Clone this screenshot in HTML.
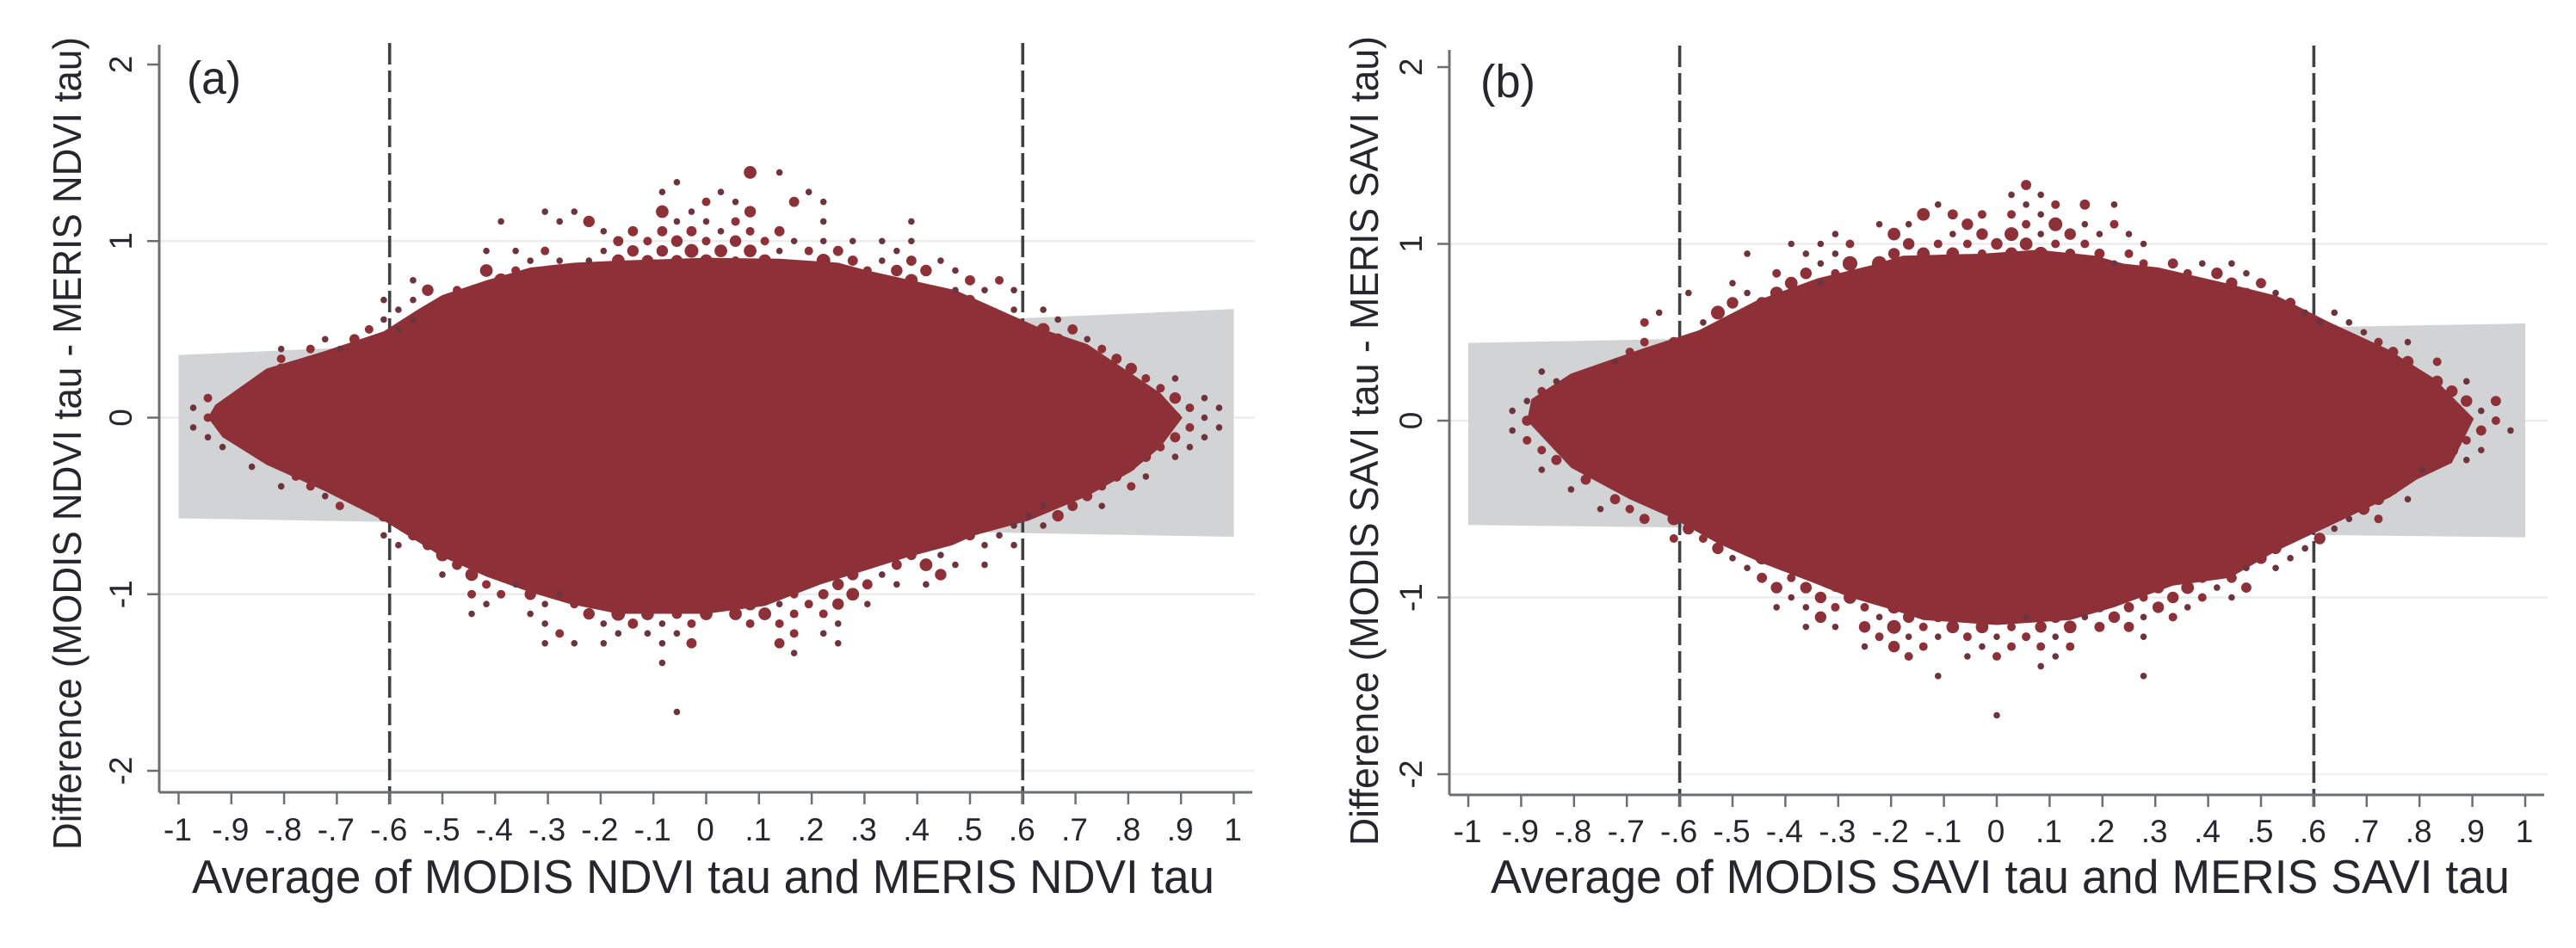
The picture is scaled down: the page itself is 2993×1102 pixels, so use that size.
<!DOCTYPE html>
<html lang="en">
<head>
<meta charset="utf-8">
<title>Bland-Altman plots of MODIS and MERIS tau</title>
<style>
html,body{margin:0;padding:0;background:#fff;}
svg{display:block;}
text{font-family:"Liberation Sans",Arial,sans-serif;fill:#26262c;}
.tick-label{font-size:37px;}
.axis-title{font-size:55px;}
.y-title{font-size:46px;}
.panel-tag{font-size:54px;}
</style>
</head>
<body>
<svg id="figure" xmlns="http://www.w3.org/2000/svg" width="2993" height="1102" viewBox="0 0 2993 1102">
  <rect x="0" y="0" width="2993" height="1102" fill="#ffffff"/>
  <g id="panel-a"></g>
  <g id="panel-b"></g>
  <text class="panel-tag" x="217" y="109" textLength="63" lengthAdjust="spacingAndGlyphs">(a)</text>
  <text class="panel-tag" x="1720" y="113" textLength="64" lengthAdjust="spacingAndGlyphs">(b)</text>
  <text class="axis-title" x="223" y="1038" textLength="1188" lengthAdjust="spacingAndGlyphs">Average of MODIS NDVI tau and MERIS NDVI tau</text>
  <text class="axis-title" x="1732" y="1038" textLength="1184" lengthAdjust="spacingAndGlyphs">Average of MODIS SAVI tau and MERIS SAVI tau</text>
  <text class="y-title" transform="translate(94 988) rotate(-90)" textLength="945" lengthAdjust="spacingAndGlyphs">Difference (MODIS NDVI tau - MERIS NDVI tau)</text>
  <text class="y-title" transform="translate(1601 983) rotate(-90)" textLength="941" lengthAdjust="spacingAndGlyphs">Difference (MODIS SAVI tau - MERIS SAVI tau)</text>
</svg>
<script>
// ---------- shared tick values ----------
const xTickValues = [-1,-.9,-.8,-.7,-.6,-.5,-.4,-.3,-.2,-.1,0,.1,.2,.3,.4,.5,.6,.7,.8,.9,1];
const xTickLabels = ["-1","-.9","-.8","-.7","-.6","-.5","-.4","-.3","-.2","-.1","0",".1",".2",".3",".4",".5",".6",".7",".8",".9","1"];
const yTickValues = [2,1,0,-1,-2];
const yTickLabels = ["2","1","0","-1","-2"];
const gridValues = [1,-1,-2,0];
const limitValues = [-.6,.6];

// Data bins: x bin = 1/36 tau, y bin = 1/18 tau; weight = binned frequency class.
// ---------- panel (a) NDVI ----------
const ndviBandX = [-1,1];
const ndviBandUpper = [.355,.615];
const ndviBandLower = [-.57,-.675];
const ndviUpperBinX = [-34,-33.5,-30,-26,-22,-19.7,-18,-15,-12,-9,-6,0,5,9,11,14,17,20,23,26,28.5,31,32.5];
const ndviUpperBinY = [0,1.3,5,6.8,8.8,11,12.5,14,15.3,15.8,16,16.3,16.2,15.8,15,14,13,11,9,7.5,5,2.5,0];
const ndviLowerBinX = [-34,-33,-30,-26,-22,-18,-15,-12,-9.3,-6,0,4,7.8,13.8,16.8,18.3,22,26,29,31,32.5];
const ndviLowerBinY = [0,-2,-4.8,-7.5,-10.5,-14.2,-16.2,-17.8,-19,-20,-20,-19.2,-17,-14.2,-13,-12,-10.5,-8,-5.5,-3,0];
const ndviDotX = [
3,5,
-2,
-3,1,7,
0,2,6,8,
-11,-9,-3,-1,3,
-14,-10,-8,-2,0,2,8,14,
-7,-5,-3,-1,1,3,5,
-6,-4,-2,0,2,4,6,8,10,12,14,
-15,-13,-11,-7,-5,-3,-1,1,3,5,7,9,13,
-12,-10,-8,-6,-4,-2,0,2,4,8,10,12,14,16,
-15,-13,-11,-9,-7,-5,5,7,9,11,13,15,17,
-20,-14,-12,-10,10,12,14,18,20,
-19,-17,-15,15,17,19,21,
-22,-20,-18,-16,16,18,
-21,-19,19,21,23,
-22,-20,20,24,
-23,-21,21,23,25,
-26,-24,-22,22,24,26,
-29,-27,-25,-23,23,25,27,
-29,26,28,
-29,-27,29,
-30,-28,30,32,
-31,31,
-34,-32,30,32,34,
-35,-33,33,35,
-34,32,34,
-35,-33,33,35,
-34,-32,32,34,
-33,-31,31,33,
-30,30,32,
-31,-29,29,
-28,28,30,
-29,-27,27,29,
-26,-24,26,
-25,23,25,27,
-22,22,24,
19,21,23,
-22,-20,18,20,
-21,-19,19,21,
-18,14,16,
-17,13,15,17,19,
-18,-16,-14,10,12,16,
-15,-13,-11,9,11,13,15,
-16,-14,-12,-10,6,8,10,
-15,-11,-9,1,3,5,7,9,11,
-16,-12,-8,-6,-4,-2,0,2,4,6,8,
-11,-7,-5,-3,-1,3,5,9,
-10,-6,-4,-2,6,8,
-11,-9,-7,-3,-1,5,9,
6,
-3,
-2];
const ndviDotY = [
25,25,
24,
23,23,23,
22,22,22,22,
21,21,21,21,21,
20,20,20,20,20,20,20,20,
19,19,19,19,19,19,19,
18,18,18,18,18,18,18,18,18,18,18,
17,17,17,17,17,17,17,17,17,17,17,17,17,
16,16,16,16,16,16,16,16,16,16,16,16,16,16,
15,15,15,15,15,15,15,15,15,15,15,15,15,
14,14,14,14,14,14,14,14,14,
13,13,13,13,13,13,13,
12,12,12,12,12,12,
11,11,11,11,11,
10,10,10,10,
9,9,9,9,9,
8,8,8,8,8,8,
7,7,7,7,7,7,7,
6,6,6,
5,5,5,
4,4,4,4,
3,3,
2,2,2,2,2,
1,1,1,1,
0,0,0,
-1,-1,-1,-1,
-2,-2,-2,-2,
-3,-3,-3,-3,
-4,-4,-4,
-5,-5,-5,
-6,-6,-6,
-7,-7,-7,-7,
-8,-8,-8,
-9,-9,-9,-9,
-10,-10,-10,
-11,-11,-11,
-12,-12,-12,-12,
-13,-13,-13,-13,
-14,-14,-14,
-15,-15,-15,-15,-15,
-16,-16,-16,-16,-16,-16,
-17,-17,-17,-17,-17,-17,-17,
-18,-18,-18,-18,-18,-18,-18,
-19,-19,-19,-19,-19,-19,-19,-19,-19,
-20,-20,-20,-20,-20,-20,-20,-20,-20,-20,-20,
-21,-21,-21,-21,-21,-21,-21,-21,
-22,-22,-22,-22,-22,-22,
-23,-23,-23,-23,-23,-23,-23,
-24,
-25,
-30];
const ndviDotW = [
5,1,
1,
1,1,1,
2,1,3,1,
1,1,5,1,4,
1,1,4,1,1,2,1,1,
1,3,3,3,1,2,3,
3,2,4,2,4,2,1,1,1,1,1,
1,1,2,1,4,4,6,5,5,1,2,3,1,
1,1,1,5,4,4,5,2,5,6,3,1,3,1,
5,2,2,5,6,5,2,4,3,2,4,4,1,
1,6,8,5,4,4,5,3,2,
4,2,4,4,1,1,1,
1,1,2,4,3,3,
1,2,4,1,1,
1,1,4,1,
2,1,5,5,3,
1,3,4,3,4,1,
1,2,1,3,2,3,2,
2,4,3,
3,3,4,
3,3,2,1,
3,2,
2,2,2,4,1,
1,4,2,1,
2,4,1,
1,2,2,1,
1,2,3,1,
1,2,2,1,
3,3,1,
1,2,2,
2,3,1,
1,2,2,2,
1,3,3,
2,1,3,1,
4,1,4,
4,1,1,
1,3,3,1,
1,3,1,1,
5,3,1,
3,3,5,1,1,
1,5,4,4,1,4,
2,1,5,4,3,1,1,
2,2,4,1,2,3,5,
1,1,2,4,5,1,2,4,1,
1,1,4,6,5,3,5,5,5,2,2,
1,1,3,1,2,2,2,1,
2,1,1,1,2,1,
1,1,1,1,3,3,1,
1,
1,
1];

// ---------- panel (b) SAVI ----------
const saviBandX = [-1,1];
const saviBandUpper = [.44,.55];
const saviBandLower = [-.59,-.66];
const saviUpperBinX = [-32,-31.7,-29,-24.2,-20.3,-16.4,-12.2,-8.6,-6.4,-1,2.8,6.7,8.6,11,15.6,19.1,22.7,26.6,29.8,32.5];
const saviUpperBinY = [0,2.2,4.8,7.3,9.2,12.2,14.5,15.8,16.8,17,17.4,16.8,16,15.6,14,12.7,10,7.3,4.3,.2];
const saviLowerBinX = [-32,-29,-25,-22,-19,-16,-12.5,-10,-7,-5,0,5,8,12,15.9,19,22.7,26.8,28.6,31,32.5];
const saviLowerBinY = [0,-4.8,-8,-10,-12.5,-14.5,-16.5,-18,-19.3,-20.3,-20.8,-20.3,-19,-16.8,-16,-13.3,-10.7,-7.8,-6,-4.3,.2];
const saviDotX = [
2,
1,3,
-4,2,4,6,8,
-5,-3,-1,1,3,
-8,-6,-2,2,4,6,8,
-11,-7,-3,-1,1,3,5,7,9,
-14,-12,-10,-6,-4,-2,0,2,4,6,10,
-17,-13,-11,-7,-5,-3,-1,1,3,5,7,9,
-12,-10,-8,-4,-2,8,10,12,14,16,
-15,-13,-11,-9,9,11,13,15,17,
-18,-14,-12,16,18,
-21,-17,-15,-13,17,19,
-18,-16,-14,18,20,
-23,-19,-17,21,23,
-24,-20,-18,22,24,
-19,25,
-24,-22,-20,24,26,28,
-25,27,
-26,28,30,
-31,-27,
-30,30,32,
-31,31,
-32,32,34,
-33,33,
-32,34,
-33,33,35,
-32,32,
-31,31,33,
-30,30,32,
-31,29,
-28,28,
-29,27,
-26,26,28,
-27,-25,25,
-24,-22,24,26,
-21,23,
-22,-20,22,
-19,19,21,
-18,-16,18,20,
-17,17,19,
-16,-14,-12,12,14,16,
-15,-13,-11,11,13,15,17,
-14,-12,-10,-8,-6,10,12,14,16,
-15,-13,-11,-9,-7,7,9,11,13,
-12,-8,-6,-4,-2,0,2,4,6,8,10,12,
-13,-11,-9,-7,-5,-3,-1,1,3,5,7,9,
-8,-6,-4,-2,0,2,4,10,
-9,-7,-5,-1,1,3,5,
-6,-2,0,4,
3,
-4,10,
0];
const saviDotY = [
24,
23,23,
22,22,22,22,22,
21,21,21,21,21,
20,20,20,20,20,20,20,
19,19,19,19,19,19,19,19,19,
18,18,18,18,18,18,18,18,18,18,18,
17,17,17,17,17,17,17,17,17,17,17,17,
16,16,16,16,16,16,16,16,16,16,
15,15,15,15,15,15,15,15,15,
14,14,14,14,14,
13,13,13,13,13,13,
12,12,12,12,12,
11,11,11,11,11,
10,10,10,10,10,
9,9,
8,8,8,8,8,8,
7,7,
6,6,6,
5,5,
4,4,4,
3,3,
2,2,2,
1,1,
0,0,
-1,-1,-1,
-2,-2,
-3,-3,-3,
-4,-4,-4,
-5,-5,
-6,-6,
-7,-7,
-8,-8,-8,
-9,-9,-9,
-10,-10,-10,-10,
-11,-11,
-12,-12,-12,
-13,-13,-13,
-14,-14,-14,-14,
-15,-15,-15,
-16,-16,-16,-16,-16,-16,
-17,-17,-17,-17,-17,-17,-17,
-18,-18,-18,-18,-18,-18,-18,-18,-18,
-19,-19,-19,-19,-19,-19,-19,-19,-19,
-20,-20,-20,-20,-20,-20,-20,-20,-20,-20,-20,-20,
-21,-21,-21,-21,-21,-21,-21,-21,-21,-21,-21,-21,
-22,-22,-22,-22,-22,-22,-22,-22,
-23,-23,-23,-23,-23,-23,-23,
-24,-24,-24,-24,
-25,
-26,-26,
-30];
const saviDotW = [
3,
1,1,
1,1,2,3,1,
5,3,2,2,1,
1,1,4,2,6,1,2,
1,5,1,4,6,1,4,1,1,
1,1,2,4,2,2,4,5,2,2,1,
1,1,1,4,5,5,2,5,6,3,3,2,
1,7,7,5,2,1,2,3,1,1,
2,4,2,2,4,3,2,4,1,
1,5,1,4,3,
1,1,5,4,3,1,
4,4,4,4,3,
1,6,4,1,1,
2,1,3,1,1,
3,1,
2,3,4,4,2,1,
2,3,
1,4,2,
1,3,
1,4,1,
2,4,
1,4,3,
1,1,
3,2,
1,3,1,
2,2,
2,5,1,
3,4,1,
1,1,
3,2,
1,3,
3,4,1,
1,2,4,
3,5,1,2,
4,1,
2,2,4,
4,4,1,
1,5,4,1,
1,1,1,
3,2,2,3,3,3,
4,4,2,4,5,1,3,
1,4,5,3,3,2,4,2,1,
1,1,2,2,5,3,3,4,1,
4,1,4,3,3,3,1,4,1,4,1,2,
1,1,4,6,2,5,5,2,4,5,3,3,
2,1,1,2,1,2,1,1,
1,4,2,1,2,2,2,
2,1,2,1,
1,
1,1,
1];

// ---------- layout (axes only, not data) ----------
const ndviFrame = {prefix:'ndvi',xZero:820.5,xUnit:613,yZero:485.5,yUnit:205.25,axisX:185,axisY:921,axisTop:52,axisRight:1455,gridRight:1458,tickLabelY:977,yTickBase:153,dashTop:50};
const saviFrame = {prefix:'savi',xZero:2320,xUnit:614,yZero:489,yUnit:205.5,axisX:1684,axisY:924,axisTop:58,axisRight:2956,gridRight:2960,tickLabelY:979,yTickBase:1652,dashTop:53};

const SVG_NS = 'http://www.w3.org/2000/svg';
const MARK_RED = '#8e3038';
const MARK_DARK = '#6d343e';
const AXIS_GRAY = '#6c6f71';

function make(tag, attrs, parent) {
  const node = document.createElementNS(SVG_NS, tag);
  for (const key in attrs) node.setAttribute(key, attrs[key]);
  parent.appendChild(node);
  return node;
}
function dotRadius(weight) { return 3.8 + 2.9 * (Math.sqrt(weight) - 1); }

function drawPanel(root, f, band, upperX, upperY, lowerX, lowerY, dotX, dotY, dotW) {
  const sx = v => f.xZero + v * f.xUnit;
  const sy = v => f.yZero - v * f.yUnit;
  const bx = k => sx(k / 36);
  const by = n => sy(n / 18);

  // grid
  gridValues.forEach(v => {
    const line = make('line', {x1:f.axisX, x2:f.gridRight, y1:sy(v), y2:sy(v), stroke:v === -2 ? '#f2f2f2' : '#ececec', 'stroke-width':2.5}, root);
    
    
  });

  // limits-of-agreement band
  const bandPts = [
    [sx(band.x[0]), sy(band.up[0])],
    [sx(band.x[1]), sy(band.up[1])],
    [sx(band.x[1]), sy(band.lo[1])],
    [sx(band.x[0]), sy(band.lo[0])]
  ].map(p => p.join(',')).join(' ');
  const bandEl = make('polygon', {points:bandPts, fill:'#d2d3d4'}, root);
  
  

  // dashed reference lines
  limitValues.forEach(v => {
    const dash = make('line', {x1:sx(v), x2:sx(v), y1:f.dashTop, y2:f.axisY + 14, stroke:'#3e4143', 'stroke-width':3.6, 'stroke-dasharray':'25 7'}, root);
    
    
  });

  // dense scatter body
  const bodyPts = [];
  upperX.forEach((k, i) => bodyPts.push(bx(k) + ',' + by(upperY[i])));
  for (let i = lowerX.length - 1; i >= 0; i--) bodyPts.push(bx(lowerX[i]) + ',' + by(lowerY[i]));
  const body = make('polygon', {points:bodyPts.join(' '), fill:MARK_RED}, root);
  
  

  // individual markers
  dotX.forEach((k, i) => {
    const w = dotW[i];
    const dot = make('circle', {cx:bx(k), cy:by(dotY[i]), r:dotRadius(w), fill:w <= 1 ? MARK_DARK : MARK_RED}, root);
    
    
  });

  // axes
  const yAxis = make('line', {x1:f.axisX, x2:f.axisX, y1:f.axisTop, y2:f.axisY, stroke:AXIS_GRAY, 'stroke-width':3}, root);
  
  
  const xAxis = make('line', {x1:f.axisX, x2:f.axisRight, y1:f.axisY, y2:f.axisY, stroke:AXIS_GRAY, 'stroke-width':3}, root);
  
  

  // x ticks
  xTickValues.forEach((v, i) => {
    const tick = make('line', {x1:sx(v), x2:sx(v), y1:f.axisY, y2:f.axisY + 14, stroke:AXIS_GRAY, 'stroke-width':2.5}, root);
    
    
    const label = make('text', {x:sx(v) - 1, y:f.tickLabelY, 'text-anchor':'middle', class:'tick-label'}, root);
    label.textContent = xTickLabels[i];
    
    
  });

  // y ticks
  yTickValues.forEach((v, i) => {
    const tick = make('line', {x1:f.axisX - 14, x2:f.axisX, y1:sy(v), y2:sy(v), stroke:AXIS_GRAY, 'stroke-width':2.5}, root);
    
    
    const label = make('text', {transform:'translate(' + f.yTickBase + ' ' + sy(v) + ') rotate(-90)', 'text-anchor':'middle', class:'tick-label'}, root);
    label.textContent = yTickLabels[i];
    
    
  });
}

drawPanel(document.getElementById('panel-a'), ndviFrame,
  {x:ndviBandX, up:ndviBandUpper, lo:ndviBandLower},
  ndviUpperBinX, ndviUpperBinY, ndviLowerBinX, ndviLowerBinY,
  ndviDotX, ndviDotY, ndviDotW);
drawPanel(document.getElementById('panel-b'), saviFrame,
  {x:saviBandX, up:saviBandUpper, lo:saviBandLower},
  saviUpperBinX, saviUpperBinY, saviLowerBinX, saviLowerBinY,
  saviDotX, saviDotY, saviDotW);
</script>
</body>
</html>
